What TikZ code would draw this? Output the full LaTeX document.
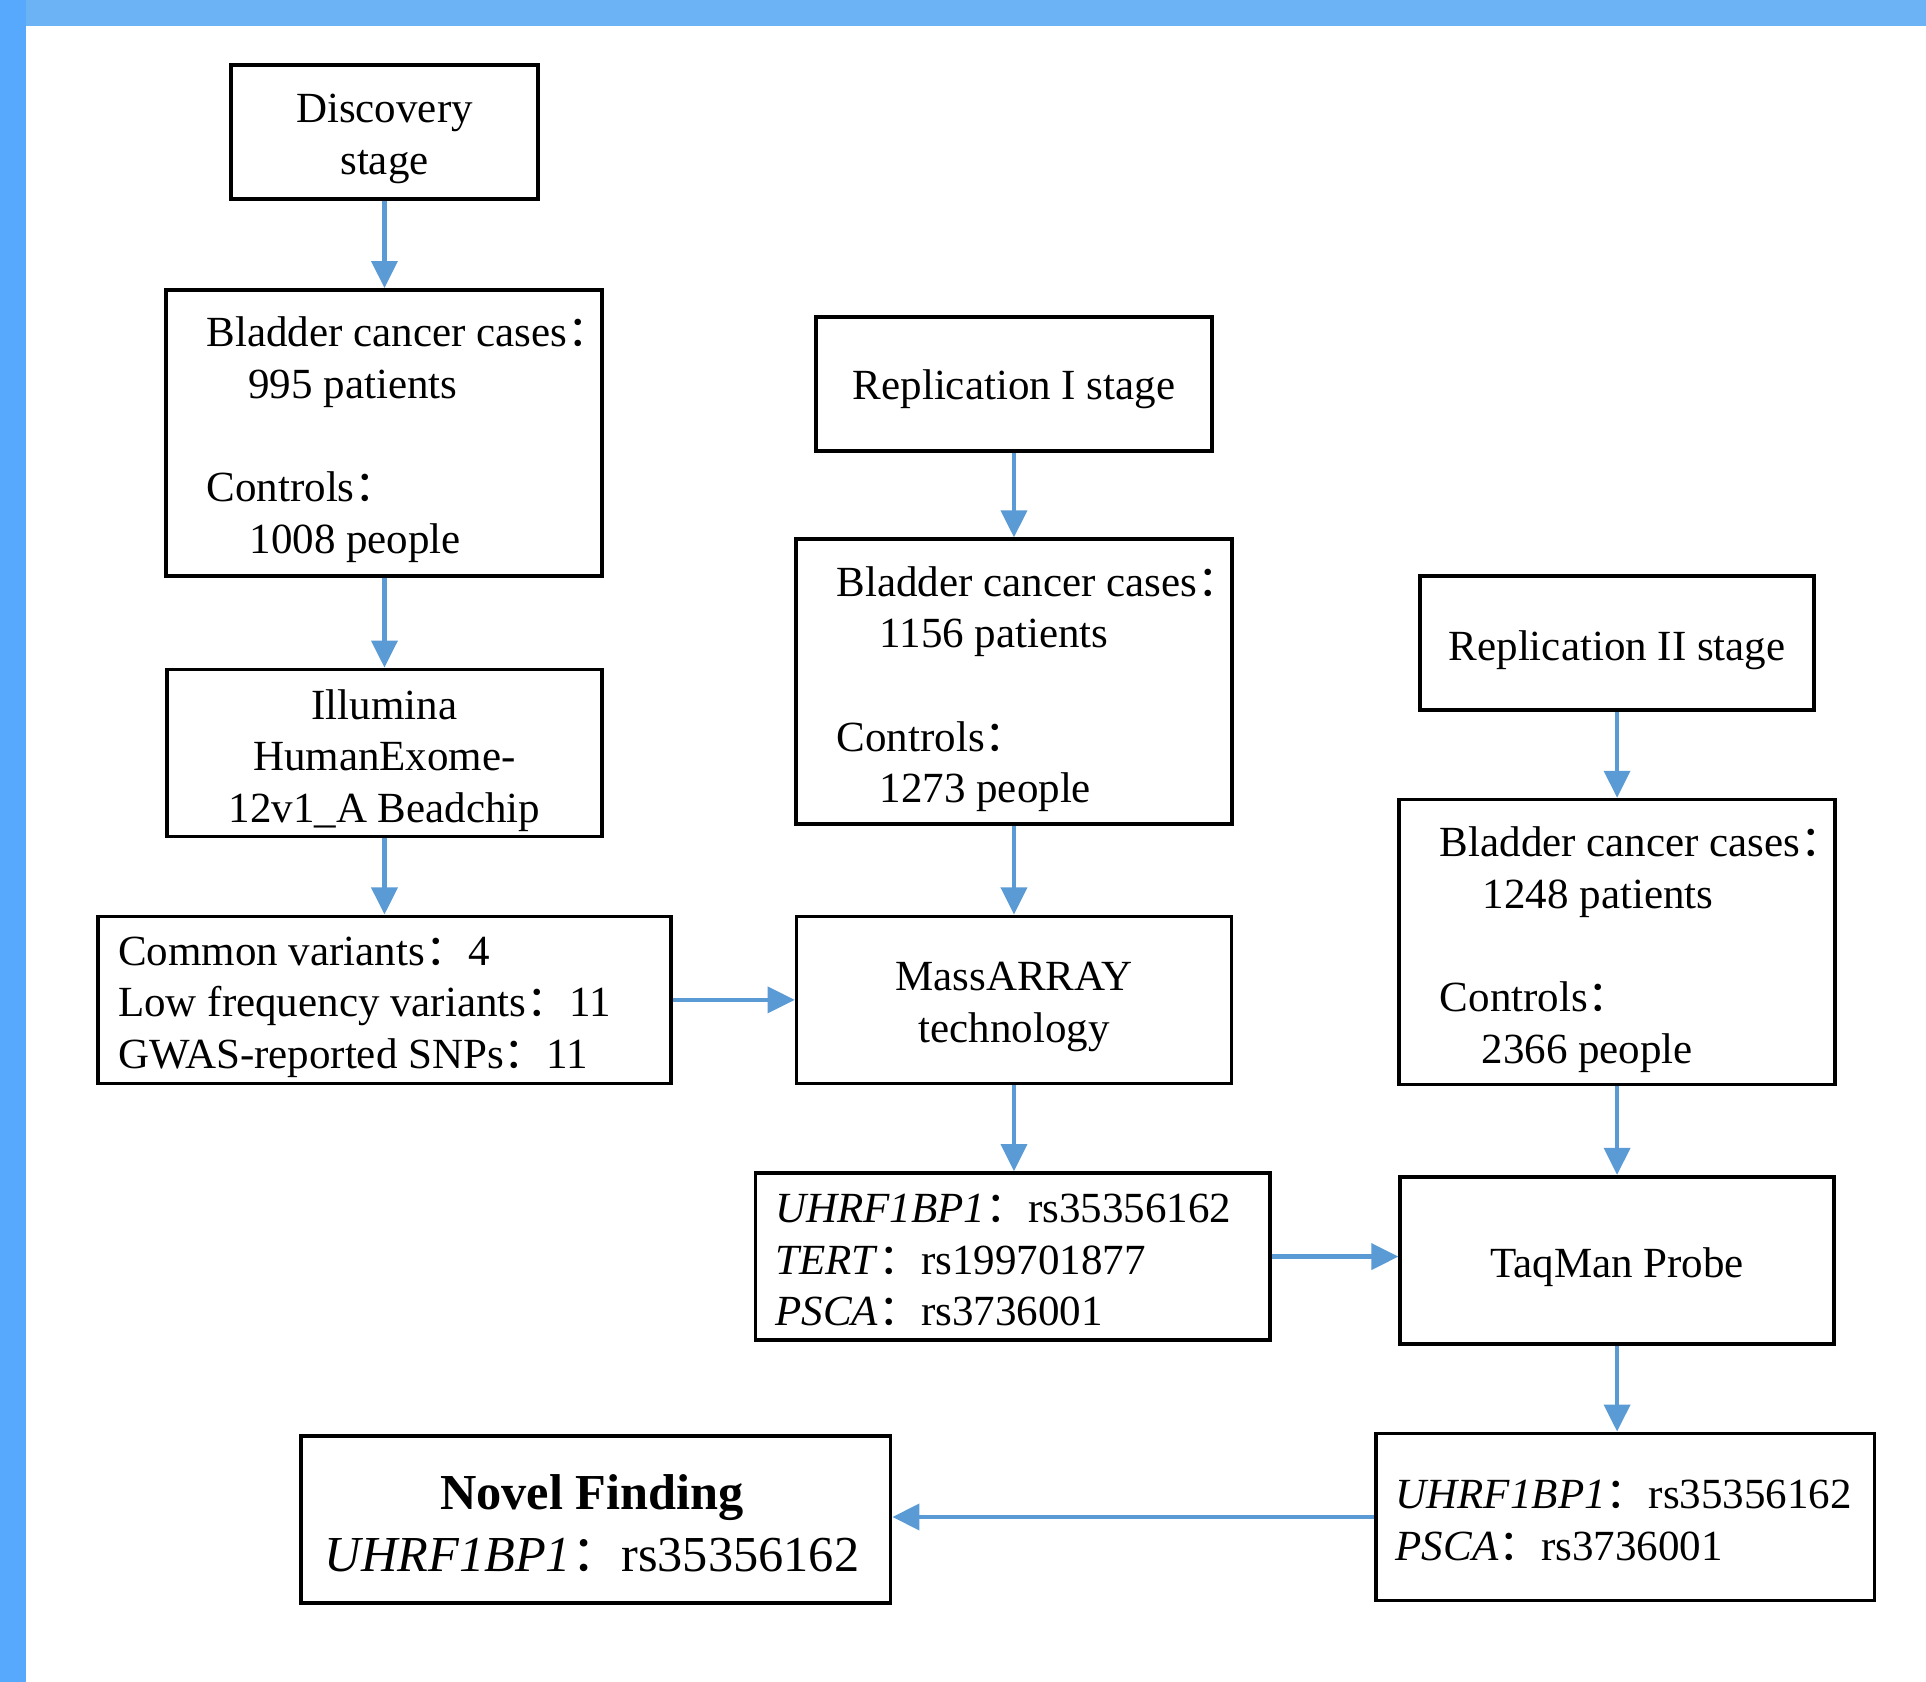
\documentclass[tikz,border=0pt]{standalone}
\usepackage{fontspec}
\setmainfont{Liberation Serif}
\newfontfamily\cjk{Noto Sans CJK SC}
\newcommand\cc{{\cjk ：}}
\usetikzlibrary{arrows.meta}
\definecolor{arrowblue}{RGB}{91,155,213}
\definecolor{frametop}{RGB}{108,179,245}
\definecolor{frameleft}{RGB}{86,169,253}
\tikzset{
  box/.style={draw=black, line width=3pt, inner sep=0pt},
  txt/.style={inner sep=0pt, align=left, anchor=west, font=\fontsize{35pt}{42pt}\selectfont},
  ctxt/.style={inner sep=0pt, align=center, font=\fontsize{35pt}{42pt}\selectfont},
  arr/.style={draw=arrowblue, line width=3.5pt, -{Triangle[length=22pt,width=21pt]}},
}
\begin{document}
\begin{tikzpicture}[x=1pt,y=-1pt]
\useasboundingbox (0,0) rectangle (1568,1369);
\fill[white] (0,0) rectangle (1568,1369);
\fill[frametop] (0,0) rectangle (1568,21);
\fill[frameleft] (0,0) rectangle (21,1369);

% left column
\node[box, minimum width=250pt, minimum height=109pt] (disc) at (313,107.5) {};
\node[ctxt] (disct) at (313,113) {Discovery\\stage};
\node[box, minimum width=355pt, minimum height=233pt] (bc1) at (312.5,352.5) {};
\node[txt] (bc1t) at (168,358) {Bladder cancer cases\cc\\\hspace*{34pt}995 patients\\[42pt]Controls\cc\\\hspace*{35pt}1008 people};
\node[box, minimum width=354pt, minimum height=136pt] (ill) at (313,613) {};
\node[ctxt] (illt) at (313,619) {Illumina\\HumanExome-\\12v1\_A Beadchip};
\node[box, minimum width=466pt, minimum height=136pt] (cv) at (313,814) {};
\node[txt] (cvt) at (96,820) {Common variants\cc4\\Low frequency variants\cc11\\GWAS-reported SNPs\cc11};

% middle column
\node[box, minimum width=322pt, minimum height=109pt] (rep1) at (825.5,312.5) {};
\node[ctxt] (rep1t) at (825.5,317) {Replication I stage};
\node[box, minimum width=355pt, minimum height=232pt] (bc2) at (825.5,555) {};
\node[txt] (bc2t) at (681,561) {Bladder cancer cases\cc\\\hspace*{35pt}1156 patients\\[42pt]Controls\cc\\\hspace*{35pt}1273 people};
\node[box, minimum width=354pt, minimum height=136pt] (mass) at (825.5,814) {};
\node[ctxt] (masst) at (825.5,820) {MassARRAY\\technology};
\node[box, minimum width=419pt, minimum height=136pt] (uh) at (824.5,1023) {};
\node[txt] (uht) at (631,1026) {\textit{UHRF1BP1}\cc rs35356162\\\textit{TERT}\cc rs199701877\\\textit{PSCA}\cc rs3736001};

% right column
\node[box, minimum width=321pt, minimum height=109pt] (rep2) at (1316.5,523.5) {};
\node[ctxt] (rep2t) at (1316.5,529) {Replication II stage};
\node[box, minimum width=355pt, minimum height=232pt] (bc3) at (1316.5,767) {};
\node[txt] (bc3t) at (1172,773) {Bladder cancer cases\cc\\\hspace*{35pt}1248 patients\\[42pt]Controls\cc\\\hspace*{34pt}2366 people};
\node[box, minimum width=353pt, minimum height=136pt] (taq) at (1316.5,1026) {};
\node[ctxt] (taqt) at (1316.5,1032) {TaqMan Probe};
\node[box, minimum width=406pt, minimum height=136pt] (fin) at (1323,1235) {};
\node[txt] (fint) at (1136,1238) {\textit{UHRF1BP1}\cc rs35356162\\\textit{PSCA}\cc rs3736001};

% novel finding
\node[box, minimum width=480pt, minimum height=136pt] (nov) at (485,1237) {};
\node[ctxt, font=\fontsize{41pt}{50pt}\selectfont] (novt) at (482,1240) {\textbf{Novel Finding}\\\textit{UHRF1BP1}\cc rs35356162};

% connectors
\draw[arr] (disc.south) -- (disc.south |- bc1.north);
\draw[arr] (bc1.south -| disc.south) -- (disc.south |- ill.north);
\draw[arr] (ill.south) -- (ill.south |- cv.north);
\draw[arr] (cv.east) -- (cv.east -| mass.west);
\draw[arr] (rep1.south) -- (rep1.south |- bc2.north);
\draw[arr] (bc2.south) -- (bc2.south |- mass.north);
\draw[arr] (mass.south) -- (mass.south |- uh.north);
\draw[arr] (uh.east) -- (uh.east -| taq.west);
\draw[arr] (rep2.south) -- (rep2.south |- bc3.north);
\draw[arr] (bc3.south) -- (bc3.south |- taq.north);
\draw[arr] (taq.south) -- (taq.south |- fin.north);
\draw[arr] (fin.west) -- (fin.west -| nov.east);
\end{tikzpicture}
\end{document}
